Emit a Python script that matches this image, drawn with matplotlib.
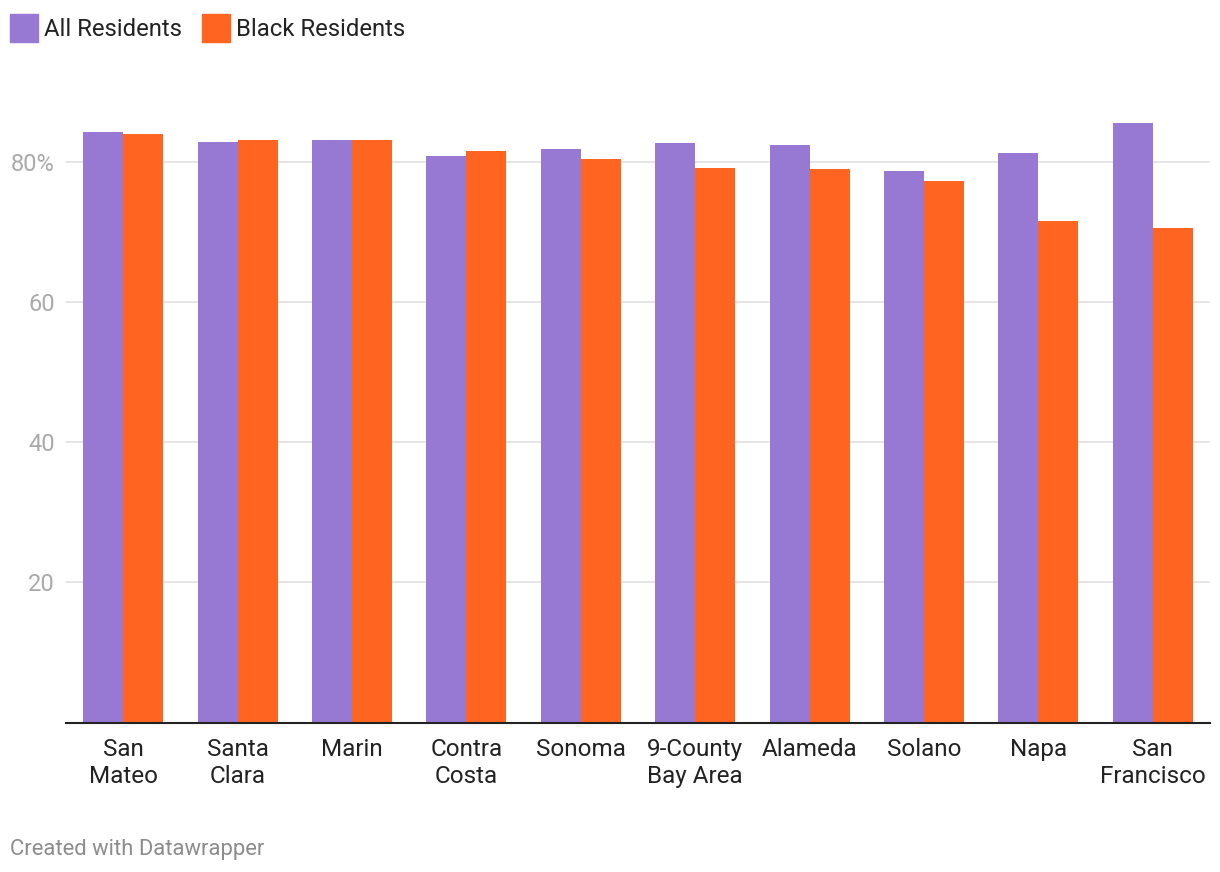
import numpy as np
import matplotlib
matplotlib.use('Agg')
import matplotlib.pyplot as plt
from matplotlib.patches import Rectangle

plt.rcParams['font.family'] = ['Roboto', 'DejaVu Sans']

# Data (share of residents, %)
counties = ['San\nMateo', 'Santa\nClara', 'Marin', 'Contra\nCosta', 'Sonoma',
            '9-County\nBay Area', 'Alameda', 'Solano', 'Napa', 'San\nFrancisco']
all_residents = [84.3, 82.9, 83.1, 80.8, 81.8, 82.7, 82.5, 78.7, 81.3, 85.6]
black_residents = [84.0, 83.2, 83.1, 81.6, 80.4, 79.1, 79.0, 77.3, 71.6, 70.6]
series_names = ['All Residents', 'Black Residents']
y_ticks = [20, 40, 60, 80]
y_tick_labels = ['20', '40', '60', '80%']

PURPLE = '#9779d3'
ORANGE = '#ff6420'

W, H = 1220, 872
fig = plt.figure(figsize=(W / 100, H / 100), dpi=100)
ax = fig.add_axes([66 / W, 1 - 722.5 / H, (1210 - 66) / W, (722.5 - 92) / H])

x = np.arange(len(counties))
bw = 0.35
ax.bar(x - bw / 2, all_residents, width=bw, color=PURPLE, zorder=3)
ax.bar(x + bw / 2, black_residents, width=bw, color=ORANGE, zorder=3)

ax.set_xlim(-0.5, len(counties) - 0.5)
ax.set_ylim(0, 90)

ax.set_yticks(y_ticks)
ax.set_yticklabels(y_tick_labels)
ax.set_xticks(x)
ax.set_xticklabels(counties, linespacing=1.25)

ax.tick_params(axis='y', length=0, pad=8, labelsize=17, labelcolor='#aaaaaa')
ax.tick_params(axis='x', length=0, pad=11, labelsize=17.5, labelcolor='#222222')

ax.yaxis.grid(True, color='#e5e5e5', linewidth=1.4, zorder=0)
ax.set_axisbelow(True)
for s in ['top', 'right', 'left']:
    ax.spines[s].set_visible(False)
ax.spines['bottom'].set_color('#222222')
ax.spines['bottom'].set_linewidth(1.5)
ax.spines['bottom'].set_zorder(4)

# Legend, drawn by hand like Datawrapper
for (px, name, col) in [(10, series_names[0], PURPLE), (202, series_names[1], ORANGE)]:
    fig.patches.append(Rectangle((px / W, 1 - 42 / H), 28 / W, 28 / H,
                                 transform=fig.transFigure, color=col))
    fig.text((px + 34) / W, 1 - 29.5 / H, name, fontsize=17.2, color='#222222',
             va='center', ha='left')

fig.text(10 / W, 1 - 849 / H, 'Created with Datawrapper', fontsize=15.8,
         color='#8c8c8c', va='center', ha='left')

fig.savefig('out.png', dpi=100)
